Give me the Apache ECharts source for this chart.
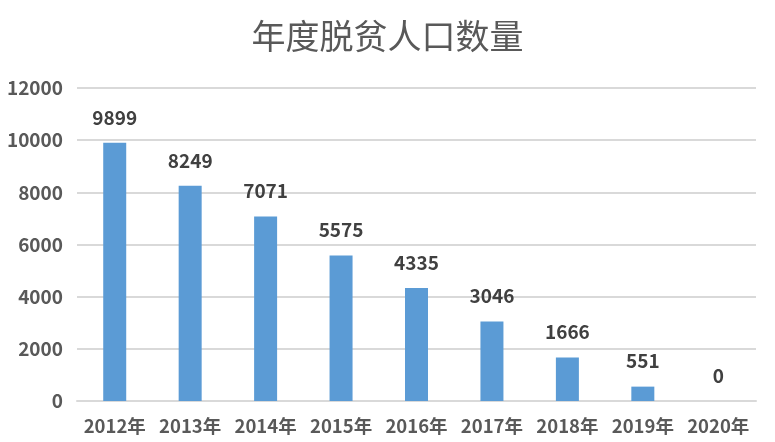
<!DOCTYPE html>
<html><head><meta charset="utf-8">
<script src="https://cdn.jsdelivr.net/npm/echarts@6/dist/echarts.min.js"></script>
<style>html,body{margin:0;padding:0;background:#fff}#c{width:775px;height:442px}</style>
</head><body><div id="c"></div>
<script>
const categories = ['2012年','2013年','2014年','2015年','2016年','2017年','2018年','2019年','2020年'];
const values = [9899, 8249, 7071, 5575, 4335, 3046, 1666, 551, 0];
const yTicks = [0, 2000, 4000, 6000, 8000, 10000, 12000];
const chart = echarts.init(document.getElementById('c'));
chart.setOption({
  animation: false,
  title: {
    text: '年度脱贫人口数量', left: 'center', top: 14,
    textStyle: {fontFamily: 'Noto Sans CJK SC', fontWeight: 'normal', fontSize: 34, color: '#595959'}
  },
  grid: {left: 77, right: 19, top: 88, bottom: 41, containLabel: false},
  xAxis: {
    type: 'category', data: categories,
    axisLine: {lineStyle: {color: '#D9D9D9', width: 2}},
    axisTick: {show: false},
    axisLabel: {interval: 0, hideOverlap: false, fontFamily: 'Noto Sans CJK SC', fontWeight: 'bold', fontSize: 18.5, color: '#595959', margin: 16}
  },
  yAxis: {
    type: 'value', min: yTicks[0], max: yTicks[yTicks.length-1], interval: 2000,
    axisLine: {show: false}, axisTick: {show: false},
    splitLine: {lineStyle: {color: '#D9D9D9', width: 2}},
    axisLabel: {fontFamily: 'Noto Sans CJK SC', fontWeight: 'bold', fontSize: 19, color: '#595959', margin: 14,
      formatter: v => String(v)}
  },
  series: [{
    type: 'bar', data: values, barWidth: 23,
    itemStyle: {color: '#5B9BD5'},
    label: {show: true, position: 'top', distance: 16, fontFamily: 'Noto Sans CJK SC', fontWeight: 'bold', fontSize: 19, color: '#404040'}
  }]
});
</script></body></html>
